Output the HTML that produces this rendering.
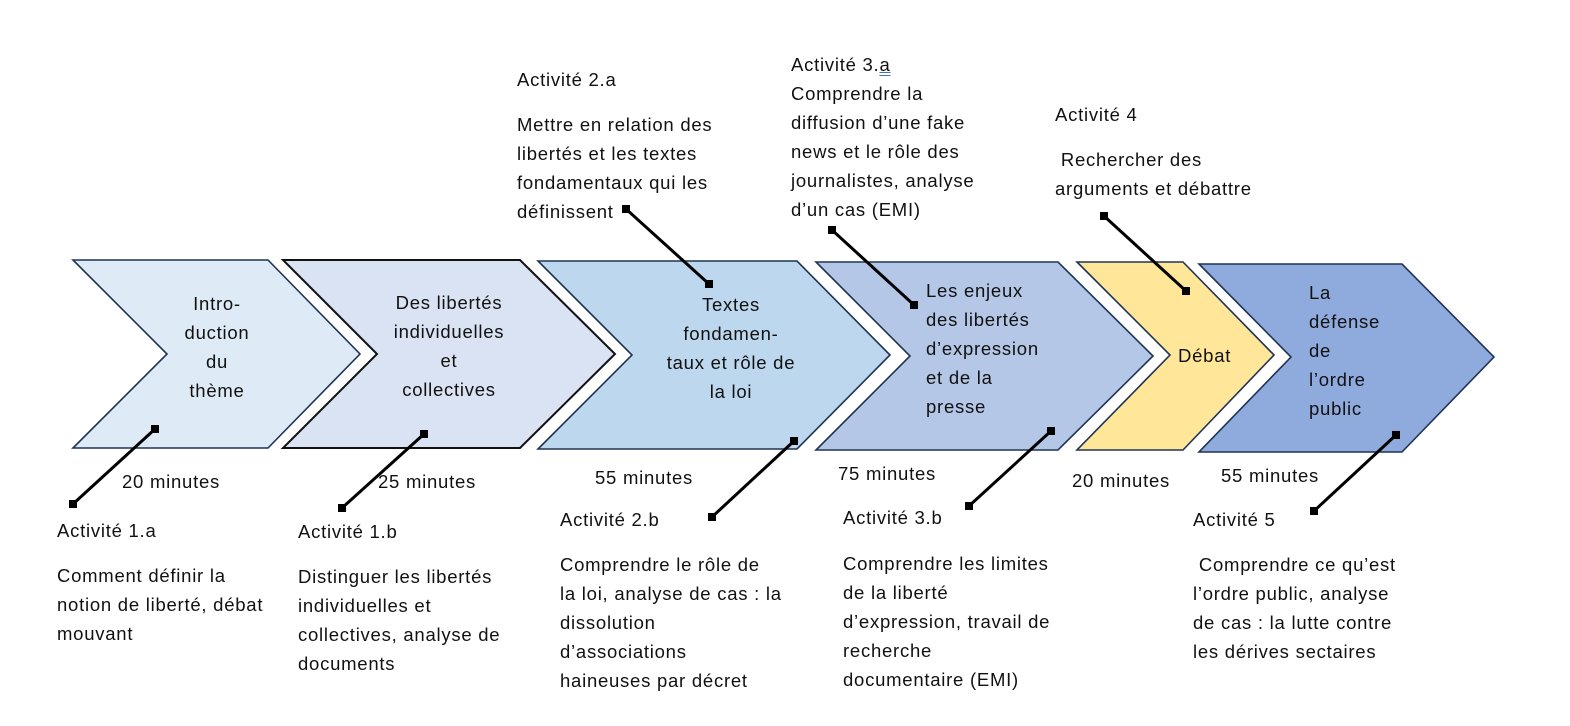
<!DOCTYPE html>
<html><head><meta charset="utf-8"><style>
body{margin:0;width:1570px;height:726px;background:#fff;position:relative;overflow:hidden;font-family:"Liberation Sans",sans-serif;color:#111}
.t{position:absolute;font-size:18.5px;letter-spacing:0.75px;line-height:29px;white-space:nowrap}
.c{text-align:center;transform:translateX(-50%)}
</style></head><body>
<svg width="1570" height="726" style="position:absolute;left:0;top:0">
<g stroke="#1f3355" stroke-width="1.6" stroke-linejoin="miter">
<polygon points="73,260 268,260 360,354 268,448 73,448 167,354" fill="#deebf7"/>
<polygon points="283,260 520,260 615,354 520,448 283,448 377,354" fill="#dae3f3" stroke="#111" stroke-width="2"/>
<polygon points="538,261 797,261 890,355 797,449 538,449 632,355" fill="#bdd7ee"/>
<polygon points="816,262 1058,262 1153,356 1058,450 816,450 910,356" fill="#b4c7e7"/>
<polygon points="1077,262 1183,262 1274,355 1183,450 1077,450 1170,355" fill="#ffe699"/>
<polygon points="1199,264 1402,264 1494,357 1402,452 1199,452 1291,357" fill="#8faadc"/>
</g>
<g stroke="#000" stroke-width="3">
<line x1="155" y1="429" x2="73" y2="504"/>
<line x1="424" y1="434" x2="342" y2="508"/>
<line x1="626" y1="209" x2="709" y2="284"/>
<line x1="794" y1="441" x2="712" y2="517"/>
<line x1="832" y1="230" x2="914" y2="305"/>
<line x1="1051" y1="431" x2="969" y2="506"/>
<line x1="1104" y1="216" x2="1186" y2="291"/>
<line x1="1396" y1="435" x2="1314" y2="511"/>
</g>
<g fill="#000">
<rect x="151" y="425" width="8" height="8"/><rect x="69" y="500" width="8" height="8"/>
<rect x="420" y="430" width="8" height="8"/><rect x="338" y="504" width="8" height="8"/>
<rect x="622" y="205" width="8" height="8"/><rect x="705" y="280" width="8" height="8"/>
<rect x="790" y="437" width="8" height="8"/><rect x="708" y="513" width="8" height="8"/>
<rect x="828" y="226" width="8" height="8"/><rect x="910" y="301" width="8" height="8"/>
<rect x="1047" y="427" width="8" height="8"/><rect x="965" y="502" width="8" height="8"/>
<rect x="1100" y="212" width="8" height="8"/><rect x="1182" y="287" width="8" height="8"/>
<rect x="1392" y="431" width="8" height="8"/><rect x="1310" y="507" width="8" height="8"/>
</g>
</svg>
<div class="t c" style="left:217px;top:289px">Intro-<br>duction<br>du<br>thème</div>
<div class="t c" style="left:449px;top:288px">Des libertés<br>individuelles<br>et<br>collectives</div>
<div class="t c" style="left:731px;top:290px">Textes<br>fondamen-<br>taux et rôle de<br>la loi</div>
<div class="t" style="left:926px;top:276px">Les enjeux<br>des libertés<br>d’expression<br>et de la<br>presse</div>
<div class="t" style="left:1178px;top:341px">Débat</div>
<div class="t" style="left:1309px;top:278px">La<br>défense<br>de<br>l’ordre<br>public</div>

<div class="t" style="left:517px;top:65px">Activité 2.a</div>
<div class="t" style="left:517px;top:110px">Mettre en relation des<br>libertés et les textes<br>fondamentaux qui les<br>définissent</div>
<div class="t" style="left:791px;top:50px">Activité 3.<span style="text-decoration:underline double #4a6fb5">a</span><br>Comprendre la<br>diffusion d’une fake<br>news et le rôle des<br>journalistes, analyse<br>d’un cas (EMI)</div>
<div class="t" style="left:1055px;top:100px">Activité 4</div>
<div class="t" style="left:1055px;top:145px">&nbsp;Rechercher des<br>arguments et débattre</div>

<div class="t" style="left:122px;top:467px">20 minutes</div>
<div class="t" style="left:378px;top:467px">25 minutes</div>
<div class="t" style="left:595px;top:463px">55 minutes</div>
<div class="t" style="left:838px;top:459px">75 minutes</div>
<div class="t" style="left:1072px;top:466px">20 minutes</div>
<div class="t" style="left:1221px;top:461px">55 minutes</div>

<div class="t" style="left:57px;top:516px">Activité 1.a</div>
<div class="t" style="left:57px;top:561px">Comment définir la<br>notion de liberté, débat<br>mouvant</div>
<div class="t" style="left:298px;top:517px">Activité 1.b</div>
<div class="t" style="left:298px;top:562px">Distinguer les libertés<br>individuelles et<br>collectives, analyse de<br>documents</div>
<div class="t" style="left:560px;top:505px">Activité 2.b</div>
<div class="t" style="left:560px;top:550px">Comprendre le rôle de<br>la loi, analyse de cas : la<br>dissolution<br>d’associations<br>haineuses par décret</div>
<div class="t" style="left:843px;top:503px">Activité 3.b</div>
<div class="t" style="left:843px;top:549px">Comprendre les limites<br>de la liberté<br>d’expression, travail de<br>recherche<br>documentaire (EMI)</div>
<div class="t" style="left:1193px;top:505px">Activité 5</div>
<div class="t" style="left:1193px;top:550px">&nbsp;Comprendre ce qu’est<br>l’ordre public, analyse<br>de cas : la lutte contre<br>les dérives sectaires</div>
</body></html>
